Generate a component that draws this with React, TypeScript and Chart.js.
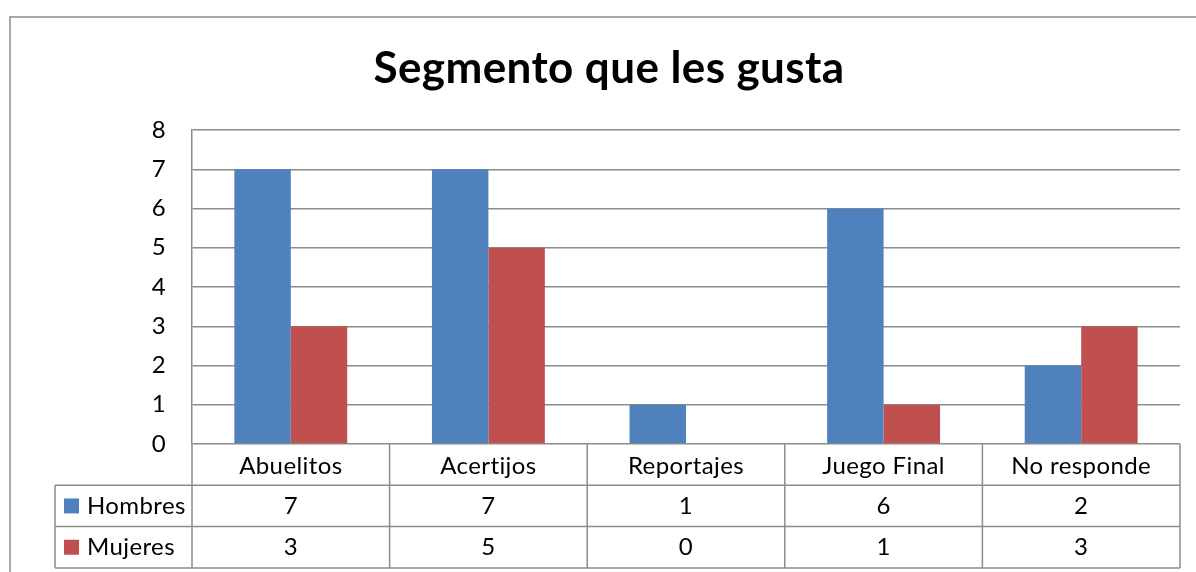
import React, { useEffect, useRef } from "react";
import { Chart, registerables } from "chart.js";

Chart.register(...registerables);

const TITLE = "Segmento que les gusta";
const categories = ["Abuelitos", "Acertijos", "Reportajes", "Juego Final", "No responde"];
const seriesNames = ["Hombres", "Mujeres"];
const hombres = [7, 7, 1, 6, 2];
const mujeres = [3, 5, 0, 1, 3];
const seriesColors = ["#4F81BD", "#C0504D"];
const yMin = 0;
const yMax = 8;
const yStep = 1;

const FONT = "Lato, 'Open Sans', sans-serif";
const GRID = "#8C8C8C";
const W = 1196;
const H = 572;
const LABEL_SIZE = 24;

const tablePlugin = {
  id: "dataTable",
  beforeDraw(chart: any) {
    const { ctx } = chart;
    ctx.save();
    ctx.fillStyle = "#FFFFFF";
    ctx.fillRect(0, 0, W, H);
    ctx.strokeStyle = GRID;
    ctx.lineWidth = 1.5;
    ctx.strokeRect(10, 17, W + 20, H + 20);
    ctx.restore();
    // small non-zero spacing keeps letters separate (no "ti" ligature)
    try {
      ctx.letterSpacing = "0.4px";
    } catch (e) {}
  },
  afterDraw(chart: any) {
    const { ctx, chartArea } = chart;
    const x = chart.scales.x;
    const n = categories.length;
    const left = chartArea.left;
    const right = chartArea.right;
    const top = chartArea.bottom;
    const rowH = 41.3;
    const legendLeft = 55;
    const values = [hombres, mujeres];

    ctx.save();
    ctx.strokeStyle = GRID;
    ctx.lineWidth = 1.5;
    ctx.beginPath();
    for (let r = 1; r <= 3; r++) {
      const y = top + r * rowH;
      ctx.moveTo(legendLeft, y);
      ctx.lineTo(right, y);
    }
    for (let i = 0; i <= n; i++) {
      let bx: number;
      if (i === 0) bx = left;
      else if (i === n) bx = right;
      else bx = (x.getPixelForValue(i - 1) + x.getPixelForValue(i)) / 2;
      ctx.moveTo(bx, top);
      ctx.lineTo(bx, top + 3 * rowH);
    }
    ctx.moveTo(legendLeft, top + rowH);
    ctx.lineTo(legendLeft, top + 3 * rowH);
    ctx.stroke();

    ctx.font = `${LABEL_SIZE}px ${FONT}`;
    ctx.textBaseline = "middle";
    for (let s = 0; s < seriesNames.length; s++) {
      const cy = top + rowH * (s + 1) + rowH / 2;
      ctx.fillStyle = seriesColors[s];
      ctx.fillRect(64, cy - 7.5, 15, 15);
      ctx.fillStyle = "#000";
      ctx.textAlign = "left";
      ctx.fillText(seriesNames[s], 87, cy);
      ctx.textAlign = "center";
      values[s].forEach((v, i) => {
        ctx.fillText(String(v), x.getPixelForValue(i), cy);
      });
    }
    ctx.restore();
  },
};

export default function App() {
  const ref = useRef<HTMLCanvasElement | null>(null);

  useEffect(() => {
    if (!ref.current) return;
    const chart = new Chart(ref.current, {
      type: "bar",
      data: {
        labels: categories,
        datasets: [
          {
            label: seriesNames[0],
            data: hombres,
            backgroundColor: seriesColors[0],
            borderWidth: 0,
            categoryPercentage: 2 / 3.5,
            barPercentage: 1,
          },
          {
            label: seriesNames[1],
            data: mujeres,
            backgroundColor: seriesColors[1],
            borderWidth: 0,
            categoryPercentage: 2 / 3.5,
            barPercentage: 1,
          },
        ],
      },
      options: {
        responsive: false,
        animation: false,
        devicePixelRatio: 1,
        layout: { padding: { left: 38, right: 16, top: 0, bottom: 0 } },
        plugins: {
          legend: { display: false },
          tooltip: { enabled: false },
          title: {
            display: true,
            text: TITLE,
            color: "#000",
            font: { family: FONT, size: 44, weight: "bold" },
            padding: { top: 42, bottom: 35.2 },
          },
        },
        scales: {
          x: {
            grid: { display: false },
            border: { display: false },
            ticks: {
              color: "#000",
              font: { family: FONT, size: LABEL_SIZE },
              padding: 0,
              maxRotation: 0,
              autoSkip: false,
            },
            afterFit: (a: any) => {
              a.height = 128;
            },
          },
          y: {
            min: yMin,
            max: yMax,
            ticks: {
              stepSize: yStep,
              color: "#000",
              font: { family: FONT, size: LABEL_SIZE },
              padding: 26,
            },
            grid: { color: GRID, lineWidth: 1.5, drawTicks: false },
            border: { color: GRID, width: 1.5 },
            afterFit: (a: any) => {
              a.width = 154;
            },
          },
        },
      },
      plugins: [tablePlugin],
    });
    return () => chart.destroy();
  }, []);

  return (
    <div style={{ position: "fixed", left: 0, top: 0, width: W, height: H, background: "#fff" }}>
      <canvas ref={ref} width={W} height={H} style={{ display: "block", width: W, height: H }} />
    </div>
  );
}
